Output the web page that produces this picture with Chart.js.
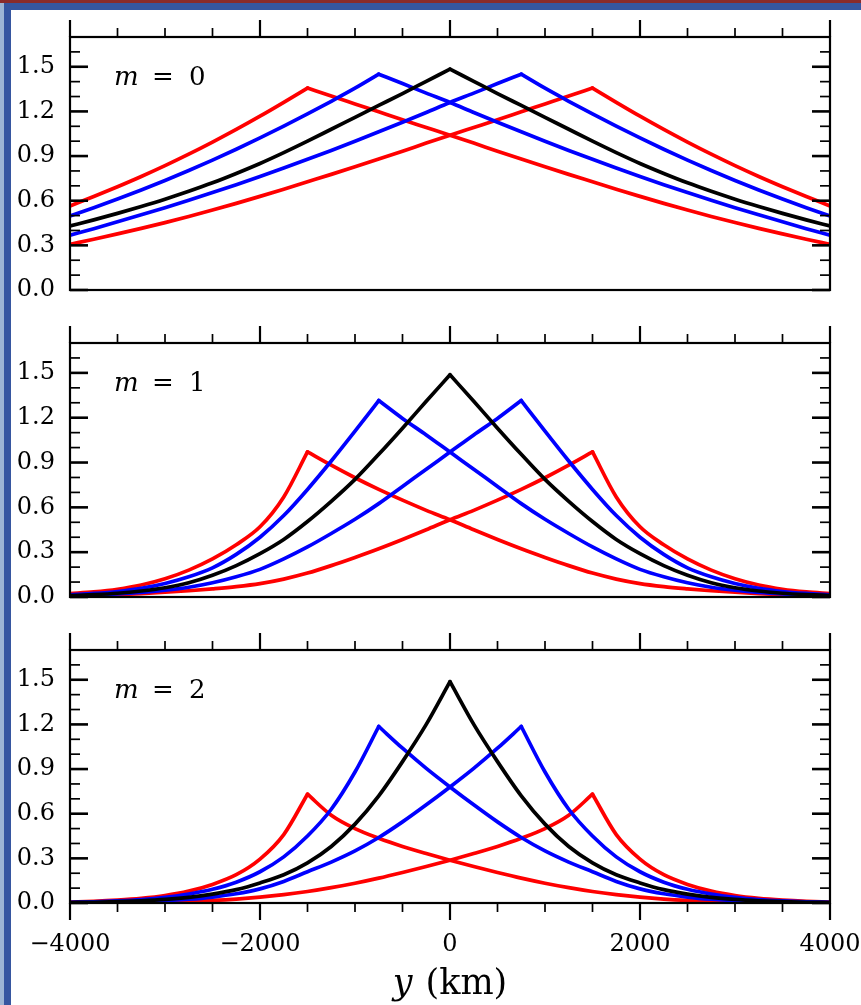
<!DOCTYPE html>
<html>
<head>
<meta charset="utf-8">
<script src="https://cdn.jsdelivr.net/npm/chart.js@4.4.1/dist/chart.umd.min.js"></script>
<style>
  html, body { margin: 0; padding: 0; background: #fff; }
  body { width: 861px; height: 1005px; position: relative; overflow: hidden; }
  .edge { position: absolute; }
  canvas { position: absolute; left: 0; }
</style>
</head>
<body>
<div class="edge" style="left:0;top:0;width:4px;height:1005px;background:#9db5d4"></div>
<div class="edge" style="left:4px;top:3px;width:7px;height:1002px;background:#3656a0"></div>
<div class="edge" style="left:0;top:0;width:861px;height:3px;background:#8a2b2b"></div>
<div class="edge" style="left:4px;top:3px;width:857px;height:7px;background:#3656a0"></div>

<canvas id="panel0" width="861" height="310" style="top:0px"></canvas>
<canvas id="panel1" width="861" height="310" style="top:310px"></canvas>
<canvas id="panel2" width="861" height="385" style="top:620px"></canvas>

<script>
// y (km) sample positions
const yKm = [-4000,-3750,-3500,-3250,-3000,-2750,-2500,-2250,-2000,-1750,-1500,-1250,-1000,-750,-500,-250,
  0,250,500,750,1000,1250,1500,1750,2000,2250,2500,2750,3000,3250,3500,3750,4000];

// m = 0
const m0Black    = [0.430,0.471,0.515,0.561,0.610,0.663,0.720,0.783,0.850,0.923,1.000,1.080,1.160,1.240,1.320,1.402,1.484,1.402,1.320,1.240,1.160,1.080,1.000,0.923,0.850,0.783,0.720,0.663,0.610,0.561,0.515,0.471,0.430];
const m0BlueWest = [0.498,0.553,0.611,0.672,0.736,0.803,0.873,0.946,1.022,1.101,1.183,1.268,1.356,1.450,1.387,1.323,1.260,1.193,1.127,1.063,1.000,0.938,0.878,0.820,0.763,0.708,0.655,0.603,0.553,0.505,0.458,0.412,0.368];
const m0BlueEast = [0.368,0.412,0.458,0.505,0.553,0.603,0.655,0.708,0.763,0.820,0.878,0.938,1.000,1.063,1.127,1.193,1.260,1.323,1.387,1.450,1.356,1.268,1.183,1.101,1.022,0.946,0.873,0.803,0.736,0.672,0.611,0.553,0.498];
const m0RedWest  = [0.565,0.628,0.694,0.763,0.836,0.913,0.994,1.079,1.168,1.261,1.357,1.303,1.250,1.197,1.144,1.092,1.040,0.987,0.933,0.880,0.828,0.777,0.727,0.677,0.629,0.582,0.537,0.494,0.453,0.414,0.377,0.341,0.307];
const m0RedEast  = [0.307,0.341,0.377,0.414,0.453,0.494,0.537,0.582,0.629,0.677,0.727,0.777,0.828,0.880,0.933,0.987,1.040,1.092,1.144,1.197,1.250,1.303,1.357,1.261,1.168,1.079,0.994,0.913,0.836,0.763,0.694,0.628,0.565];

// m = 1
const m1Black    = [0.010,0.016,0.025,0.040,0.062,0.095,0.145,0.210,0.290,0.385,0.505,0.640,0.787,0.955,1.130,1.310,1.487,1.310,1.130,0.955,0.787,0.640,0.505,0.385,0.290,0.210,0.145,0.095,0.062,0.040,0.025,0.016,0.010];
const m1BlueWest = [0.015,0.024,0.037,0.058,0.090,0.135,0.195,0.285,0.400,0.545,0.720,0.910,1.110,1.315,1.195,1.085,0.970,0.855,0.740,0.625,0.520,0.425,0.335,0.255,0.185,0.135,0.095,0.065,0.045,0.030,0.020,0.013,0.008];
const m1BlueEast = [0.008,0.013,0.020,0.030,0.045,0.065,0.095,0.135,0.185,0.255,0.335,0.425,0.520,0.625,0.740,0.855,0.970,1.085,1.195,1.315,1.110,0.910,0.720,0.545,0.400,0.285,0.195,0.135,0.090,0.058,0.037,0.024,0.015];
const m1RedWest  = [0.022,0.034,0.052,0.080,0.122,0.180,0.255,0.350,0.470,0.670,0.971,0.882,0.798,0.720,0.648,0.580,0.517,0.450,0.385,0.323,0.265,0.210,0.160,0.120,0.090,0.070,0.055,0.042,0.032,0.022,0.015,0.010,0.006];
const m1RedEast  = [0.006,0.010,0.015,0.022,0.032,0.042,0.055,0.070,0.090,0.120,0.160,0.210,0.265,0.323,0.385,0.450,0.517,0.580,0.648,0.720,0.798,0.882,0.971,0.670,0.470,0.350,0.255,0.180,0.122,0.080,0.052,0.034,0.022];

// m = 2
const m2Black    = [0.003,0.005,0.009,0.015,0.024,0.038,0.060,0.090,0.135,0.190,0.270,0.380,0.530,0.720,0.950,1.200,1.487,1.200,0.950,0.720,0.530,0.380,0.270,0.190,0.135,0.090,0.060,0.038,0.024,0.015,0.009,0.005,0.003];
const m2BlueWest = [0.004,0.008,0.014,0.023,0.038,0.060,0.092,0.140,0.210,0.310,0.450,0.630,0.880,1.186,1.040,0.905,0.780,0.660,0.545,0.440,0.350,0.275,0.210,0.145,0.095,0.062,0.040,0.025,0.015,0.009,0.005,0.003,0.001];
const m2BlueEast = [0.001,0.003,0.005,0.009,0.015,0.025,0.040,0.062,0.095,0.145,0.210,0.275,0.350,0.440,0.545,0.660,0.780,0.905,1.040,1.186,0.880,0.630,0.450,0.310,0.210,0.140,0.092,0.060,0.038,0.023,0.014,0.008,0.004];
const m2RedWest  = [0.006,0.011,0.019,0.031,0.050,0.080,0.125,0.190,0.295,0.460,0.731,0.590,0.500,0.435,0.380,0.332,0.287,0.245,0.205,0.167,0.133,0.103,0.077,0.056,0.039,0.026,0.017,0.011,0.007,0.004,0.002,0.001,0.000];
const m2RedEast  = [0.000,0.001,0.002,0.004,0.007,0.011,0.017,0.026,0.039,0.056,0.077,0.103,0.133,0.167,0.205,0.245,0.287,0.332,0.380,0.435,0.500,0.590,0.731,0.460,0.295,0.190,0.125,0.080,0.050,0.031,0.019,0.011,0.006];

// ticks
const xMajorTicks = [-4000, -2000, 0, 2000, 4000];
const xMinorTicks = [-3500, -3000, -2500, -1500, -1000, -500, 500, 1000, 1500, 2500, 3000, 3500];
const yMajorTicks = [0, 0.3, 0.6, 0.9, 1.2, 1.5];
const yMinorTicks = [0.1, 0.2, 0.4, 0.5, 0.7, 0.8, 1.0, 1.1, 1.3, 1.4, 1.6];

const panels = [
  { mode: 0, black: m0Black, blueW: m0BlueWest, blueE: m0BlueEast, redW: m0RedWest, redE: m0RedEast },
  { mode: 1, black: m1Black, blueW: m1BlueWest, blueE: m1BlueEast, redW: m1RedWest, redE: m1RedEast },
  { mode: 2, black: m2Black, blueW: m2BlueWest, blueE: m2BlueEast, redW: m2RedWest, redE: m2RedEast }
];

const SERIF = '"DejaVu Serif", serif';

// frame, inward y ticks, outward x ticks, panel label
const frameTicks = {
  id: 'frameTicks',
  afterDraw(chart, args, opts) {
    const { ctx, chartArea: a } = chart;
    const xs = chart.scales.x, ys = chart.scales.y;
    const line = (x0, y0, x1, y1, w) => {
      ctx.lineWidth = w;
      ctx.beginPath();
      ctx.moveTo(x0, y0);
      ctx.lineTo(x1, y1);
      ctx.stroke();
    };
    ctx.save();
    ctx.strokeStyle = '#000';
    ctx.lineCap = 'butt';

    yMajorTicks.forEach(v => {
      const p = ys.getPixelForValue(v);
      line(a.left, p, a.left + 18, p, 2.6);
      line(a.right, p, a.right - 18, p, 2.6);
    });
    yMinorTicks.forEach(v => {
      const p = ys.getPixelForValue(v);
      line(a.left, p, a.left + 10, p, 1.7);
      line(a.right, p, a.right - 10, p, 1.7);
    });
    xMajorTicks.forEach(v => {
      const p = xs.getPixelForValue(v);
      line(p, a.top, p, a.top - 17, 2.2);
      if (opts.bottomTicks) line(p, a.bottom, p, a.bottom + 17, 2.2);
    });
    xMinorTicks.forEach(v => {
      const p = xs.getPixelForValue(v);
      line(p, a.top, p, a.top - 9, 1.7);
      if (opts.bottomTicks) line(p, a.bottom, p, a.bottom + 9, 1.7);
    });

    ctx.lineWidth = 2.2;
    ctx.strokeRect(a.left, a.top, a.right - a.left, a.bottom - a.top);

    // m = k
    ctx.fillStyle = '#000';
    ctx.textAlign = 'left';
    ctx.textBaseline = 'alphabetic';
    ctx.font = 'italic 26px ' + SERIF;
    ctx.fillText('m', a.left + 44, a.top + 48);
    ctx.font = '26px ' + SERIF;
    ctx.fillText('=', a.left + 82, a.top + 48);
    ctx.fillText(String(opts.mode), a.left + 119, a.top + 48);

    if (opts.title) {
      ctx.font = 'italic 35px ' + SERIF;
      const wy = ctx.measureText('y').width;
      ctx.font = '35px ' + SERIF;
      const wk = ctx.measureText('(km)').width;
      const gap = 13;
      const x0 = (a.left + a.right) / 2 - (wy + gap + wk) / 2;
      ctx.font = 'italic 35px ' + SERIF;
      ctx.fillText('y', x0, a.bottom + 91);
      ctx.font = '35px ' + SERIF;
      ctx.fillText('(km)', x0 + wy + gap, a.bottom + 91);
    }
    ctx.restore();
  }
};

const boxes = [
  { top: 37, bottom: 20 },
  { top: 33, bottom: 23 },
  { top: 30, bottom: 0 }
];

// each curve is split at its peak so the monotone spline keeps the sharp cusp
function curve(vals, color) {
  const k = vals.indexOf(Math.max(...vals));
  const pts = yKm.map((x, i) => ({ x: x, y: vals[i] }));
  return [pts.slice(0, k + 1), pts.slice(k)].map(part => ({
    data: part,
    borderColor: color,
    borderWidth: 3.7,
    borderCapStyle: 'round',
    pointRadius: 0,
    cubicInterpolationMode: 'monotone',
    fill: false
  }));
}

panels.forEach((p, i) => {
  const last = i === panels.length - 1;
  new Chart(document.getElementById('panel' + i), {
    type: 'line',
    data: {
      datasets: [
        ...curve(p.black, '#000000'),
        ...curve(p.blueW, '#0000ff'),
        ...curve(p.blueE, '#0000ff'),
        ...curve(p.redW, '#ff0000'),
        ...curve(p.redE, '#ff0000')
      ]
    },
    options: {
      responsive: false,
      animation: false,
      events: [],
      devicePixelRatio: 1,
      layout: { padding: { left: 10, right: 31, top: boxes[i].top, bottom: boxes[i].bottom } },
      plugins: {
        legend: { display: false },
        tooltip: { enabled: false },
        frameTicks: { mode: p.mode, bottomTicks: last, title: last }
      },
      scales: {
        x: {
          type: 'linear',
          min: -4000,
          max: 4000,
          display: last,
          grid: { display: false, drawTicks: false },
          border: { display: false },
          afterBuildTicks: s => { s.ticks = xMajorTicks.map(v => ({ value: v })); },
          afterFit: s => {
            if (s.options.display) s.height = 102;
            s.paddingLeft = 0;
            s.paddingRight = 0;
          },
          ticks: {
            maxRotation: 0,
            autoSkip: false,
            padding: 27,
            color: '#000',
            font: { family: SERIF, size: 24 },
            callback: v => (v < 0 ? '\u2212' + Math.abs(v) : String(v))
          }
        },
        y: {
          min: 0,
          max: 1.7,
          grid: { display: false, drawTicks: false },
          border: { display: false },
          afterBuildTicks: s => { s.ticks = yMajorTicks.map(v => ({ value: v })); },
          afterFit: s => {
            s.width = 60;
            s.paddingTop = 0;
            s.paddingBottom = 0;
          },
          ticks: {
            autoSkip: false,
            padding: 15,
            color: '#000',
            font: { family: SERIF, size: 24 },
            callback: v => v.toFixed(1)
          }
        }
      }
    },
    plugins: [frameTicks]
  });
});
</script>
</body>
</html>
